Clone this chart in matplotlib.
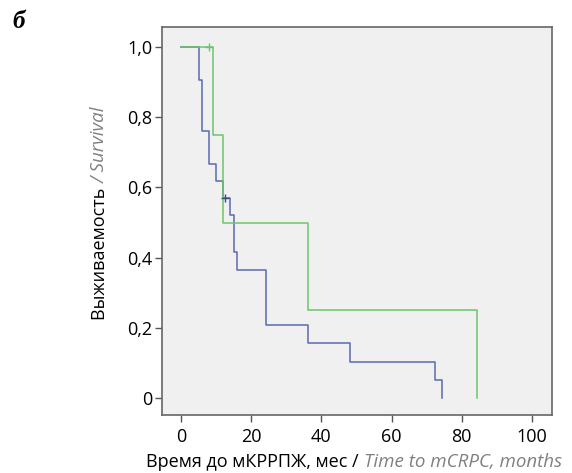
import matplotlib
matplotlib.use('Agg')
import matplotlib.pyplot as plt
from matplotlib.ticker import FuncFormatter

# Kaplan-Meier steps
blue_t = [0, 5.1, 6.0, 8.1, 10.0, 12.1, 14.1, 15.0, 16.1, 24.2, 36.1, 48.2, 72.3, 74.4]
blue_s = [1.0, 0.905, 0.762, 0.667, 0.619, 0.571, 0.521, 0.417, 0.365, 0.208, 0.156, 0.104, 0.052, 0.0]
green_t = [0, 9.0, 12.1, 36.2, 84.3]
green_s = [1.0, 0.75, 0.5, 0.25, 0.0]

# censored observations
blue_cens_t = [12.5]
blue_cens_s = [0.571]
green_cens_t = [8.1]
green_cens_s = [1.0]

xticks = [0, 20, 40, 60, 80, 100]
yticks = [0, 0.2, 0.4, 0.6, 0.8, 1.0]

plt.rcParams['font.family'] = ['Open Sans', 'DejaVu Sans']

fig = plt.figure(figsize=(5.72, 4.73), dpi=100)
ax = fig.add_axes([162/572, 58/473, 390/572, 388/473])
ax.set_facecolor('#f0f0f0')

blue = '#5a6aae'
green = '#6cc46c'
ax.step(blue_t, blue_s, where='post', color=blue, lw=1.1)
ax.step(green_t, green_s, where='post', color=green, lw=1.1)
ax.plot(blue_cens_t, blue_cens_s, '+', color='#3a4a8e', ms=6, mew=1)
ax.plot(green_cens_t, green_cens_s, '+', color=green, ms=6, mew=1)

ax.set_xlim(-5.4, 105.7)
ax.set_ylim(-0.048, 1.057)
ax.set_xticks(xticks)
ax.set_yticks(yticks)
ax.yaxis.set_major_formatter(FuncFormatter(lambda v, p: '0' if v == 0 else f'{v:.1f}'.replace('.', ',')))
ax.tick_params(direction='out', length=5, width=1, color='#555555', labelsize=13, pad=2)
ax.tick_params(axis='x', pad=4)
for sp in ax.spines.values():
    sp.set_color('#666666')
    sp.set_linewidth(1.2)

fig.text(12/572, 1 - 21/473, 'б', family='Liberation Serif', fontweight='bold', style='italic',
         fontsize=18, ha='left', va='center')

# x label in two parts
fig.canvas.draw()
r = fig.canvas.get_renderer()
xl1 = fig.text(0, 1 - 462/473, 'Время до мКРРПЖ, мес / ', fontsize=13, color='black', va='center')
xl2 = fig.text(0, 1 - 462/473, 'Time to mCRPC, months', fontsize=13.5, color='#808080', style='italic', va='center')
w1 = xl1.get_window_extent(r).width
w2 = xl2.get_window_extent(r).width
x0 = 354 - (w1 + w2) / 2
xl1.set_x(x0 / 572)
xl2.set_x((x0 + w1) / 572)

# y label in two parts, rotated
yl1 = fig.text(100/572, 0, 'Выживаемость ', fontsize=13, color='black', rotation=90, ha='center', va='bottom')
yl2 = fig.text(100/572, 0, '/ Survival', fontsize=13.5, color='#808080', style='italic', rotation=90, ha='center', va='bottom')
h1 = yl1.get_window_extent(r).height
h2 = yl2.get_window_extent(r).height
y0 = (473 - 213) - (h1 + h2) / 2
yl1.set_y(y0 / 473)
yl2.set_y((y0 + h1) / 473)

fig.savefig('out.png', dpi=100)
